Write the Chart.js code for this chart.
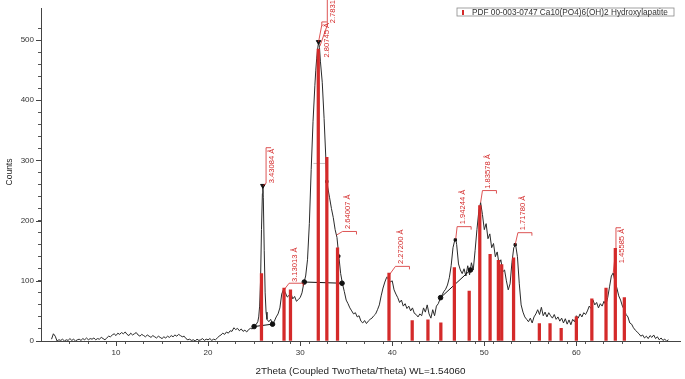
<!DOCTYPE html>
<html>
<head>
<meta charset="utf-8">
<script src="https://cdn.jsdelivr.net/npm/chart.js@4"></script>
<style>
  body { margin: 0; background: #fff; }
  canvas { display: block; }
</style>
</head>
<body>
<canvas id="xrdChart" width="685" height="379"></canvas>
<script>
const twoTheta = [
    3.0, 3.2, 3.4, 3.6, 3.8, 4.0, 4.2, 4.4, 4.6, 4.8, 5.0, 5.2, 5.4, 5.6, 5.8,
    6.0, 6.2, 6.4, 6.6, 6.8, 7.0, 7.2, 7.4, 7.6, 7.8, 8.0, 8.2, 8.4, 8.6, 8.8,
    9.0, 9.2, 9.4, 9.6, 9.8, 10.0, 10.2, 10.4, 10.6, 10.8, 11.0, 11.2, 11.4, 11.6, 11.8,
    12.0, 12.2, 12.4, 12.6, 12.8, 13.0, 13.2, 13.4, 13.6, 13.8, 14.0, 14.2, 14.4, 14.6, 14.8,
    15.0, 15.2, 15.4, 15.6, 15.8, 16.0, 16.2, 16.4, 16.6, 16.8, 17.0, 17.2, 17.4, 17.6, 17.8,
    18.0, 18.2, 18.4, 18.6, 18.8, 19.0, 19.2, 19.4, 19.6, 19.8, 20.0, 20.2, 20.4, 20.6, 20.8,
    21.0, 21.2, 21.4, 21.6, 21.8, 22.0, 22.2, 22.4, 22.6, 22.8, 23.0, 23.2, 23.4, 23.6, 23.8,
    24.0, 24.2, 24.4, 24.6, 24.8,
    25.0, 25.2, 25.4, 25.5, 25.6, 25.7, 25.8, 25.9, 25.95,
    26.0, 26.1, 26.2, 26.3, 26.4, 26.6, 26.8,
    27.0, 27.2, 27.4, 27.6, 27.8, 28.0, 28.2, 28.4, 28.6, 28.8, 29.0, 29.2, 29.4, 29.6, 29.8,
    30.0, 30.2, 30.4, 30.6, 30.8,
    31.0, 31.2, 31.4, 31.6, 31.7, 31.8, 31.9,
    32.0, 32.1, 32.2, 32.4, 32.6, 32.8, 32.9,
    33.0, 33.2, 33.4, 33.6, 33.8, 34.0, 34.2, 34.4, 34.6, 34.8,
    35.0, 35.2, 35.4, 35.6, 35.8, 36.0, 36.2, 36.4, 36.6, 36.8, 37.0, 37.2, 37.4, 37.6, 37.8,
    38.0, 38.2, 38.4, 38.6, 38.8, 39.0, 39.2, 39.4, 39.6, 39.8, 40.0, 40.2, 40.4, 40.6, 40.8,
    41.0, 41.2, 41.4, 41.6, 41.8, 42.0, 42.2, 42.4, 42.6, 42.8, 43.0, 43.2, 43.4, 43.6, 43.8,
    44.0, 44.2, 44.4, 44.6, 44.8, 45.0, 45.2, 45.4, 45.6, 45.8,
    46.0, 46.2, 46.4, 46.6, 46.8, 46.9,
    47.0, 47.2, 47.4, 47.6, 47.8, 48.0, 48.2, 48.4, 48.6, 48.8, 49.0, 49.2, 49.4, 49.6, 49.8,
    50.0, 50.2, 50.4, 50.6, 50.8, 51.0, 51.2, 51.4, 51.6, 51.8, 52.0, 52.2, 52.4, 52.6, 52.8,
    53.0, 53.2, 53.4, 53.6, 53.8, 54.0, 54.2, 54.4, 54.6, 54.8, 55.0, 55.2, 55.4, 55.6, 55.8,
    56.0, 56.2, 56.4, 56.6, 56.8, 57.0, 57.2, 57.4, 57.6, 57.8, 58.0, 58.2, 58.4, 58.6, 58.8,
    59.0, 59.2, 59.4, 59.6, 59.8, 60.0, 60.2, 60.4, 60.6, 60.8, 61.0, 61.2, 61.4, 61.6, 61.8,
    62.0, 62.2, 62.4, 62.6, 62.8, 63.0, 63.2, 63.4, 63.6, 63.8, 64.0, 64.2, 64.4, 64.6, 64.8,
    65.0, 65.2, 65.4, 65.6, 65.8, 66.0, 66.2, 66.4, 66.6, 66.8, 67.0, 67.2, 67.4, 67.6, 67.8,
    68.0, 68.2, 68.4, 68.6, 68.8, 69.0, 69.2, 69.4, 69.6, 69.8, 70.0
];
const counts = [
    3, 12, 8, 0, 2, 1, 3, 0, 2, 1, 4, 1, 3, 0, 2,
    3, 1, 4, 2, 5, 2, 4, 3, 5, 2, 4, 3, 6, 4, 2,
    5, 8, 7, 10, 12, 9, 13, 11, 14, 12, 15, 11, 9, 13, 10,
    12, 14, 10, 8, 11, 9, 7, 10, 8, 6, 9, 7, 5, 8, 6,
    4, 7, 5, 8, 6, 9, 7, 10, 8, 11, 9, 7, 8, 4, 2,
    3, 1, 2, 0, 3, 1, 2, 4, 1, 3, 2, 4, 1, 3, 2,
    5, 8, 10, 13, 11, 15, 13, 17, 16, 22, 19, 21, 17, 20, 16,
    18, 15, 19, 21, 20,
    24, 27, 32, 40, 58, 100, 185, 245, 258,
    238, 150, 80, 48, 36, 32, 36,
    28, 33, 40, 45, 55, 78, 86, 80, 73, 76, 79, 70, 74, 66, 69,
    72, 80, 96, 108, 135,
    195, 285, 365, 425, 450, 470, 485,
    497, 488, 465, 430, 370, 300, 265,
    255, 238, 220, 205, 185, 172, 141, 112, 95, 82,
    68, 62, 55, 50, 45, 47, 40, 42, 33, 30, 34, 29, 33, 36, 38,
    42, 45, 52, 60, 75, 88, 98, 106, 103, 98, 100, 85, 78, 72, 64,
    68, 58, 62, 54, 58, 50, 55, 46, 44, 40, 45, 42, 55, 48, 60,
    45, 38, 52, 42, 58, 62, 70, 76, 82, 86,
    93, 105, 125, 155, 168, 170,
    160, 128, 118, 112, 120, 108, 125, 110, 130, 118, 150, 185, 215, 230, 210,
    185, 195, 170, 178, 155, 162, 140, 148, 128, 135, 115, 118, 100, 85, 95,
    130, 155, 160, 140, 95, 60, 48, 40, 36, 32, 38, 30, 40, 45, 52,
    44, 56, 42, 48, 40, 47, 42, 38, 44, 36, 40, 33, 38, 30, 37,
    28, 35, 27, 36, 32, 42, 38, 45, 40, 47, 44, 50, 58, 54, 68,
    60, 64, 55, 62, 58, 66, 60, 72, 90, 108, 113, 98, 88, 75, 68,
    58, 52, 44, 40, 30, 28, 22, 18, 15, 12, 8, 10, 5, 8, 4,
    9, 6, 10, 4, 7, 2, 5, 1, 3, 0, 2
];

// PDF 00-003-0747 Hydroxylapatite reference lines
const refAngles = [25.8, 28.25, 28.95, 31.97, 32.9, 34.06, 39.65, 42.17, 43.88, 45.28, 46.75, 48.36,
    49.51, 50.63, 51.53, 51.89, 53.18, 55.98, 57.14, 58.35, 60.0, 61.68, 63.22, 64.23, 65.21];
const refHeights = [112, 88, 85, 485, 305, 155, 113, 34, 35, 30, 122, 83,
    225, 144, 134, 127, 138, 29, 29, 21, 40, 70, 88, 154, 72];

// d-spacing labels
const peakLabels = ['3.43084 Å', '3.13013 Å', '2.80745 Å', '2.78316 Å', '2.64007 Å',
    '2.27200 Å', '1.94244 Å', '1.83578 Å', '1.71780 Å', '1.45585 Å'];
const labelPeakX = [25.95, 28.3, 32.0, 32.15, 33.95, 39.5, 46.9, 49.6, 53.35, 64.0];
const labelPeakY = [258, 86, 497, 490, 176, 106, 170, 230, 160, 113];
const labelBracketX = [26.3, 28.8, 32.35, 32.95, 34.6, 40.35, 47.05, 49.8, 53.65, 64.3];
const labelBracketY = [262, 96, 525, 525, 182, 124, 190, 250, 180, 154];
const labelTextY = [262, 98, 471, 528, 186, 128, 194, 253, 184, 129];
const labelStyle = ['v', 'h', 'v', 'v', 'h', 'h', 'h', 'h', 'h', 'v'];

// background / width markers drawn by the software
const bgStartX = [25.0, 30.45, 45.25];
const bgStartY = [24, 98, 72];
const bgEndX = [27.0, 34.55, 48.5];
const bgEndY = [28, 96, 118];
const peakMarkX = [25.95, 32.0];
const peakMarkY = [258, 497];
const boxMarkX = [32.9, 34.2, 46.85, 53.35];
const boxMarkY = [265, 141, 168, 160];

const legendText = 'PDF 00-003-0747 Ca10(PO4)6(OH)2 Hydroxylapatite';
const xTitle = '2Theta (Coupled TwoTheta/Theta) WL=1.54060';
const yTitle = 'Counts';

const FONT = '"Liberation Sans", Arial, sans-serif';
const RED = '#d42a2a';

function fitFont(ctx, text, width) {
    ctx.font = '10px ' + FONT;
    return 10 * width / ctx.measureText(text).width;
}

const annotations = {
    id: 'annotations',
    afterDatasetsDraw(chart) {
        const ctx = chart.ctx;
        const xs = chart.scales.x, ys = chart.scales.y;
        ctx.save();
        ctx.strokeStyle = RED;
        ctx.fillStyle = RED;
        ctx.lineWidth = 0.8;
        ctx.font = '7.6px ' + FONT;
        peakLabels.forEach((text, i) => {
            const px = xs.getPixelForValue(labelPeakX[i]);
            const py = ys.getPixelForValue(labelPeakY[i]);
            const bx = xs.getPixelForValue(labelBracketX[i]);
            const by = ys.getPixelForValue(labelBracketY[i]);
            const ty = ys.getPixelForValue(labelTextY[i]);
            const len = ctx.measureText(text).width;
            ctx.beginPath();
            ctx.moveTo(px, py);
            ctx.lineTo(bx, by);
            if (labelStyle[i] === 'v') {
                const top = ty - len - 1;
                ctx.lineTo(bx, top);
                ctx.lineTo(bx + 5, top);
            } else {
                ctx.lineTo(bx + 14, by);
                ctx.lineTo(bx + 14, by + 3);
            }
            ctx.stroke();
            ctx.save();
            ctx.translate(bx + 5.5, ty);
            ctx.rotate(-Math.PI / 2);
            ctx.textAlign = 'left';
            ctx.textBaseline = 'middle';
            ctx.fillText(text, 0, 0);
            ctx.restore();
        });
        ctx.restore();
    },
    afterDraw(chart) {
        const ctx = chart.ctx;
        const xs = chart.scales.x, ys = chart.scales.y;
        const area = chart.chartArea;
        ctx.save();
        // longer major ticks
        ctx.strokeStyle = '#444';
        ctx.lineWidth = 1;
        ctx.beginPath();
        xs.ticks.forEach(t => {
            if (Math.round(t.value) % 10 === 0) {
                const x = Math.round(xs.getPixelForValue(t.value)) + 0.5;
                ctx.moveTo(x, area.bottom);
                ctx.lineTo(x, area.bottom + 5);
            }
        });
        ys.ticks.forEach(t => {
            if (Math.round(t.value) % 100 === 0) {
                const y = Math.round(ys.getPixelForValue(t.value)) + 0.5;
                ctx.moveTo(area.left - 5, y);
                ctx.lineTo(area.left, y);
            }
        });
        ctx.stroke();

        // axis titles
        ctx.fillStyle = '#222';
        ctx.textAlign = 'center';
        ctx.textBaseline = 'middle';
        ctx.font = fitFont(ctx, xTitle, 210).toFixed(2) + 'px ' + FONT;
        ctx.fillText(xTitle, (area.left + area.right) / 2, 371);
        ctx.save();
        ctx.translate(10, 172);
        ctx.rotate(-Math.PI / 2);
        ctx.font = '8.5px ' + FONT;
        ctx.fillText(yTitle, 0, 0);
        ctx.restore();

        // legend box
        ctx.fillStyle = '#fff';
        ctx.fillRect(457, 8, 217, 8);
        ctx.strokeStyle = '#8a8a8a';
        ctx.lineWidth = 0.8;
        ctx.strokeRect(457, 8, 217, 8);
        ctx.fillStyle = RED;
        ctx.fillRect(462, 10, 2, 5);
        ctx.fillStyle = '#333';
        ctx.textAlign = 'left';
        ctx.font = fitFont(ctx, legendText, 196).toFixed(2) + 'px ' + FONT;
        ctx.fillText(legendText, 472, 12.3);
        ctx.restore();
    }
};

function pairs(xs, ys) {
    if (xs.length !== ys.length) console.error('length mismatch', xs.length, ys.length);
    return xs.map((x, i) => ({ x: x, y: ys[i] }));
}

const ctx = document.getElementById('xrdChart').getContext('2d');
new Chart(ctx, {
    type: 'line',
    data: {
        datasets: [
            {
                type: 'bar',
                label: 'reference',
                data: pairs(refAngles, refHeights),
                backgroundColor: RED,
                barThickness: 2.6,
                order: 0
            },
            {
                label: 'pattern',
                data: pairs(twoTheta, counts),
                borderColor: '#2a2a2a',
                borderWidth: 1,
                pointRadius: 0,
                tension: 0,
                order: 2
            },
            ...bgStartX.map((x, i) => ({
                label: 'background ' + i,
                data: [{ x: x, y: bgStartY[i] }, { x: bgEndX[i], y: bgEndY[i] }],
                borderColor: '#111',
                backgroundColor: '#111',
                borderWidth: 1,
                pointRadius: 2.3,
                order: 1
            })),
            {
                label: 'half height',
                data: [{ x: 31.45, y: 295 }, { x: 32.75, y: 295 }],
                borderColor: '#999',
                borderWidth: 0.6,
                pointRadius: 0,
                order: 1
            },
            {
                label: 'peaks',
                data: pairs(peakMarkX, peakMarkY),
                showLine: false,
                pointStyle: 'triangle',
                rotation: 180,
                pointRadius: 2.6,
                backgroundColor: '#111',
                borderColor: '#111',
                order: 1
            },
            {
                label: 'marks',
                data: pairs(boxMarkX, boxMarkY),
                showLine: false,
                pointStyle: 'rect',
                pointRadius: 1.6,
                backgroundColor: '#111',
                borderColor: '#111',
                order: 1
            }
        ]
    },
    options: {
        responsive: false,
        animation: false,
        events: [],
        layout: { padding: { top: 3, right: 3, left: 0, bottom: 0 } },
        plugins: {
            legend: { display: false },
            tooltip: { enabled: false }
        },
        scales: {
            x: {
                type: 'linear',
                min: 2.94,
                max: 70.17,
                afterFit: s => { s.height = 38; },
                afterBuildTicks: s => {
                    s.ticks = s.ticks.filter(t => Math.abs(t.value - Math.round(t.value)) < 1e-6 && Math.round(t.value) % 2 === 0);
                },
                border: { display: true, color: '#444', width: 1 },
                grid: { drawOnChartArea: false, drawTicks: true, tickLength: 3, color: '#555' },
                ticks: {
                    stepSize: 2,
                    autoSkip: false,
                    maxRotation: 0,
                    padding: 4,
                    color: '#333',
                    font: { family: FONT, size: 8 },
                    callback: v => (Math.round(v) % 10 === 0 ? String(Math.round(v)) : '')
                }
            },
            y: {
                type: 'linear',
                min: 0,
                max: 552,
                afterFit: s => { s.width = 41; },
                afterBuildTicks: s => {
                    s.ticks = s.ticks.filter(t => Math.round(t.value) % 20 === 0);
                },
                border: { display: true, color: '#444', width: 1 },
                grid: { drawOnChartArea: false, drawTicks: true, tickLength: 3, color: '#555' },
                ticks: {
                    stepSize: 20,
                    autoSkip: false,
                    padding: 4,
                    color: '#333',
                    font: { family: FONT, size: 8 },
                    callback: v => (v % 100 === 0 ? String(v) : '')
                }
            }
        }
    },
    plugins: [annotations]
});
</script>
</body>
</html>
